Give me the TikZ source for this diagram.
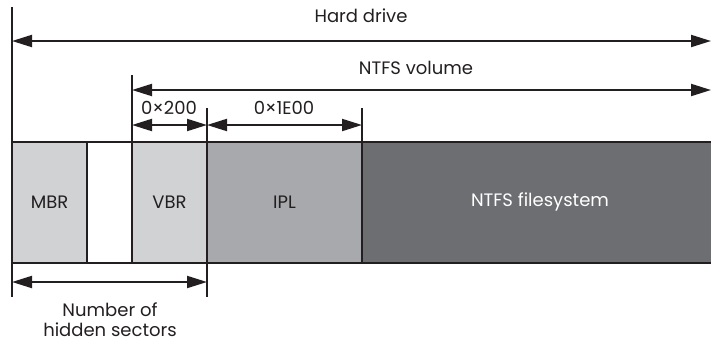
\documentclass[tikz,border=0pt]{standalone}
\usepackage{fontspec}
\setmainfont{Poppins}
\usetikzlibrary{arrows.meta}
\definecolor{lightg}{HTML}{D1D2D4}
\definecolor{midg}{HTML}{A7A9AC}
\definecolor{darkg}{HTML}{6D6E71}
\definecolor{ink}{HTML}{231F20}
\begin{document}
\begin{tikzpicture}[x=1pt,y={(0pt,-1pt)},
  seg/.style={draw=none,anchor=north west,minimum height=121pt,inner sep=0pt,outer sep=0pt,font=\fontsize{18}{22}\selectfont,text=ink},
  dim/.style={draw=ink,line width=2pt,{Triangle[length=20pt,width=12pt]}-{Triangle[length=20pt,width=12pt]}},
  ext/.style={draw=ink,line width=2pt},
  lab/.style={font=\fontsize{18}{22}\selectfont,text=ink,inner sep=0pt}]
\useasboundingbox (0,0) rectangle (711,343);
% segments
\node[seg,fill=lightg,minimum width=75pt] (mbr) at (12,142) {MBR};
\node[seg,fill=white,minimum width=45pt] (gap) at (87,142) {};
\node[seg,fill=lightg,minimum width=75pt] (vbr) at (132,142) {VBR};
\node[seg,fill=midg,minimum width=155pt] (ipl) at (207,142) {IPL};
\node[seg,fill=darkg,minimum width=349pt,text=white] (fs) at (362,142) {};
\node[lab,text=white] (fslab) at (540,202) {NTFS filesystem};
% outlines
\draw[ext] (mbr.north west) -- (711,142);
\draw[ext] (mbr.south west) -- (711,263);
\draw[ext] (mbr.north east) -- (mbr.south east);
\draw[ext] (gap.north east) -- (gap.south east);
\draw[ext] (vbr.north east) -- (vbr.south east);
\draw[ext] (ipl.north east) -- (ipl.south east);
% extension lines
\coordinate (hdtop) at (12,7);
\coordinate (nvtop) at (132,75);
\coordinate (a2top) at (207,108);
\coordinate (a3top) at (362,108);
\coordinate (b1) at (12,297);
\coordinate (b2) at (207,297);
\draw[ext] (hdtop) -- (mbr.south west);
\draw[ext] (nvtop) -- (vbr.north west);
\draw[ext] (a2top) -- (vbr.north east);
\draw[ext] (a3top) -- (ipl.north east);
\draw[ext] (mbr.south west) -- (b1);
\draw[ext] (vbr.south east) -- (b2);
% dimension arrows
\coordinate (hdl) at (12,41);
\coordinate (hdr) at (711,41);
\coordinate (nvl) at (132,90);
\coordinate (nvr) at (711,90);
\coordinate (s1l) at (132,125);
\coordinate (s1r) at (207,125);
\coordinate (s2r) at (362,125);
\coordinate (bl) at (12,282);
\coordinate (br) at (207,282);
\draw[dim] (hdl) -- (hdr);
\draw[dim] (nvl) -- (nvr);
\draw[dim] (s1l) -- (s1r);
\draw[dim] (s1r) -- (s2r);
\draw[dim] (bl) -- (br);
% labels
\node[lab] (hd) at (361,16) {Hard drive};
\node[lab] (nv) at (416,68) {NTFS volume};
\node[lab] (l200) at (169,108) {0×200};
\node[lab] (l1e) at (284,108) {0×1E00};
\node[lab,anchor=base] (hs1) at (110,316) {Number of};
\node[lab,anchor=base] (hs2) at (110,336) {hidden sectors};
\end{tikzpicture}
\end{document}
